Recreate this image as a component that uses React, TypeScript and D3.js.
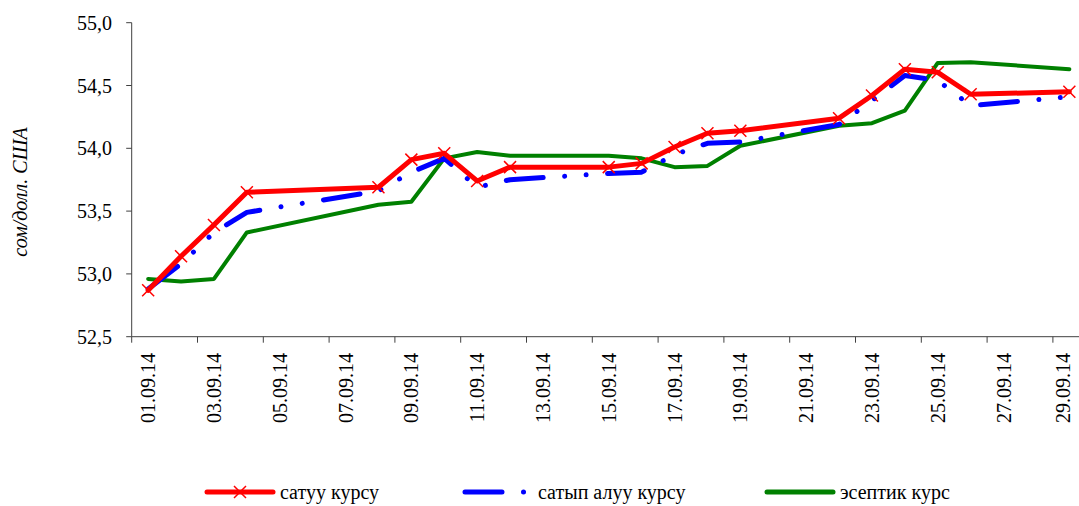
import React from "react";
import * as d3 from "d3";

const categories = [
  "01.09.14","02.09.14","03.09.14","04.09.14","05.09.14","06.09.14","07.09.14","08.09.14","09.09.14","10.09.14",
  "11.09.14","12.09.14","13.09.14","14.09.14","15.09.14","16.09.14","17.09.14","18.09.14","19.09.14","20.09.14",
  "21.09.14","22.09.14","23.09.14","24.09.14","25.09.14","26.09.14","27.09.14","28.09.14","29.09.14",
];
const tickLabels = [
  "01.09.14","03.09.14","05.09.14","07.09.14","09.09.14","11.09.14","13.09.14","15.09.14",
  "17.09.14","19.09.14","21.09.14","23.09.14","25.09.14","27.09.14","29.09.14",
];
const dataDays = [
  "01.09.14","02.09.14","03.09.14","04.09.14","08.09.14","09.09.14","10.09.14","11.09.14","12.09.14",
  "15.09.14","16.09.14","17.09.14","18.09.14","19.09.14","22.09.14","23.09.14","24.09.14","25.09.14","26.09.14","29.09.14",
];
const sellRate = [52.87, 53.14, 53.39, 53.65, 53.69, 53.91, 53.96, 53.74, 53.85, 53.85, 53.88, 54.01, 54.12, 54.14, 54.24, 54.42, 54.63, 54.605, 54.43, 54.45];
const buyRate = [52.88, 53.08, 53.33, 53.49, 53.66, 53.81, 53.92, 53.69, 53.75, 53.80, 53.81, 53.95, 54.04, 54.05, 54.19, 54.38, 54.58, 54.54, 54.34, 54.41];
const officialRate = [52.96, 52.94, 52.96, 53.33, 53.55, 53.575, 53.92, 53.97, 53.94, 53.94, 53.92, 53.85, 53.86, 54.02, 54.18, 54.2, 54.3, 54.68, 54.685, 54.63];
const yTicks = [52.5, 53.0, 53.5, 54.0, 54.5, 55.0];
const legendLabels = ["сатуу курсу", "сатып алуу курсу", "эсептик курс"];
const yTitle = "сом/долл. США";

const W = 1079, H = 506;
const AXIS = "#404040";
const RED = "#ff0000", BLUE = "#0000ff", GREEN = "#008000";
const BLUE_DASH = "37 21.5 0.01 21.5 0.01 21.5";

function T(props: any) {
  const { children, italic, ...rest } = props;
  return (
    <text {...rest} fontFamily="Liberation Serif" fontSize={20}
      style={{ fontFamily: `"Liberation Serif"`, fontSize: "20px", fontStyle: italic ? "italic" : "normal" }}
      fill="#000">{children}</text>
  );
}

export default function App() {
  const x = d3.scaleBand<string>().domain(categories).range([131.7, 1085.8]).padding(0);
  const y = d3.scaleLinear().domain([52.5, 55]).range([336.7, 22.7]);
  const cx = (d: string) => (x(d) as number) + x.bandwidth() / 2;

  const mk = (vals: number[]) =>
    d3.line<number>().x((_, i) => cx(dataDays[i])).y((v) => y(v))(vals) as string;

  const fmt = (v: number) => v.toFixed(1).replace(".", ",");
  const x0 = x.range()[0];
  const y0 = y(52.5);

  const cross = (px: number, py: number, key: string | number, s = 6) => (
    <path key={key} d={`M${px - s},${py - s}L${px + s},${py + s}M${px - s},${py + s}L${px + s},${py - s}`}
      stroke={RED} strokeWidth={1.5} fill="none" />
  );

  const legY = 492;

  return (
    <svg width={W} height={H} style={{ position: "absolute", left: 0, top: 0, background: "#fff", fontFamily: `"Liberation Serif"` }}>
      {/* y axis */}
      <line x1={x0} x2={x0} y1={y(55)} y2={y0} stroke={AXIS} strokeWidth={1} />
      {yTicks.map((t) => (
        <g key={t}>
          <line x1={x0 - 5.5} x2={x0} y1={y(t)} y2={y(t)} stroke={AXIS} strokeWidth={1} />
          <T x={112} y={y(t)} dy="0.35em" textAnchor="end">{fmt(t)}</T>
        </g>
      ))}
      <T transform={`translate(20,192) rotate(-90)`} dy="0.35em" textAnchor="middle" italic>{yTitle}</T>

      {/* x axis */}
      <line x1={x0} x2={x.range()[1]} y1={y0} y2={y0} stroke={AXIS} strokeWidth={1} />
      {tickLabels.map((lab) => {
        const bx = x(lab) as number;
        const lx = Math.min(cx(lab), 1063);
        return (
          <g key={lab}>
            <line x1={bx} x2={bx} y1={y0} y2={y0 + 6} stroke={AXIS} strokeWidth={1} />
            <T transform={`translate(${lx},353) rotate(-90)`} dy="0.35em" textAnchor="end">{lab}</T>
          </g>
        );
      })}

      {/* series */}
      <path d={mk(officialRate)} stroke={GREEN} strokeWidth={4} fill="none" strokeLinejoin="round" strokeLinecap="round" />
      <path d={mk(buyRate)} stroke={BLUE} strokeWidth={5} fill="none" strokeLinejoin="round" strokeLinecap="round"
        strokeDasharray={BLUE_DASH} />
      <path d={mk(sellRate)} stroke={RED} strokeWidth={5} fill="none" strokeLinejoin="round" strokeLinecap="round" />
      {sellRate.map((v, i) => cross(cx(dataDays[i]), y(v), i))}

      {/* legend */}
      <line x1={207} x2={273} y1={legY} y2={legY} stroke={RED} strokeWidth={5} strokeLinecap="round" />
      {cross(240, legY, "lg")}
      <T x={280} y={legY} dy="0.35em">{legendLabels[0]}</T>

      <line x1={465} x2={533} y1={legY} y2={legY} stroke={BLUE} strokeWidth={5} strokeLinecap="round" strokeDasharray={BLUE_DASH} />
      <T x={538} y={legY} dy="0.35em">{legendLabels[1]}</T>

      <line x1={767} x2={833} y1={legY} y2={legY} stroke={GREEN} strokeWidth={5} strokeLinecap="round" />
      <T x={840} y={legY} dy="0.35em">{legendLabels[2]}</T>
    </svg>
  );
}
